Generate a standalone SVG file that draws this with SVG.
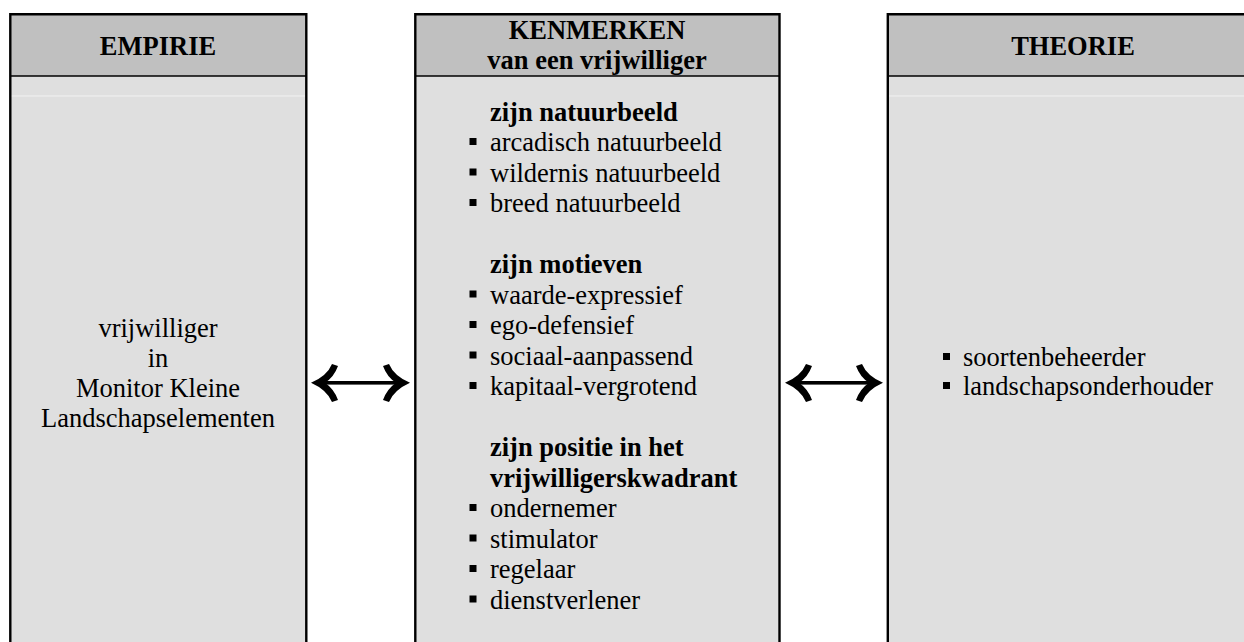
<svg xmlns="http://www.w3.org/2000/svg" width="1244" height="642" viewBox="0 0 1244 642">
<style>
.hdr{fill:#c0c0c0;stroke:none}
.body{fill:#dfdfdf;stroke:none}
.frame{fill:none;stroke:#000;stroke-width:2.4}
.div{stroke:#000;stroke-width:1.4}
.lite{stroke:#f2f2f2;stroke-width:1}
text{font-family:"Liberation Serif","Times New Roman",serif;font-size:26.5px;fill:#000}
.b{font-weight:bold}
.c{text-anchor:middle}
.bul{fill:#000}
.arr{fill:#000;stroke:none}
</style>
<rect width="1244" height="642" fill="#fff"/>
<g id="empirie">
<rect class="hdr" x="10" y="14" width="296" height="62"/>
<rect class="body" x="10" y="76" width="296" height="570"/>
<line class="lite" x1="11" y1="96" x2="305" y2="96"/>
<line class="div" x1="10" y1="76" x2="306" y2="76"/>
<path class="frame" d="M10.3 650 V14.3 H306.3 V650"/>
<text class="b c" x="158" y="55">EMPIRIE</text>
<text class="c" x="158" y="337">vrijwilliger</text>
<text class="c" x="158" y="367">in</text>
<text class="c" x="158" y="397">Monitor Kleine</text>
<text class="c" x="158" y="427">Landschapselementen</text>
</g>
<g id="kenmerken">
<rect class="hdr" x="415" y="14" width="365" height="62"/>
<rect class="body" x="415" y="76" width="365" height="570"/>
<line class="div" x1="415" y1="76" x2="780" y2="76"/>
<path class="frame" d="M415.3 650 V14.3 H779.5 V650"/>
<text class="b c" x="597" y="39">KENMERKEN</text>
<text class="b c" x="597" y="69">van een vrijwilliger</text>
<text class="b" x="490" y="120.5">zijn natuurbeeld</text>
<rect class="bul" x="469.5" y="138" width="7" height="7"/><text x="490" y="151">arcadisch natuurbeeld</text>
<rect class="bul" x="469.5" y="168.5" width="7" height="7"/><text x="490" y="181.5">wildernis natuurbeeld</text>
<rect class="bul" x="469.5" y="199" width="7" height="7"/><text x="490" y="212">breed natuurbeeld</text>
<text class="b" x="490" y="273">zijn motieven</text>
<rect class="bul" x="469.5" y="290.5" width="7" height="7"/><text x="490" y="303.5">waarde-expressief</text>
<rect class="bul" x="469.5" y="321" width="7" height="7"/><text x="490" y="334">ego-defensief</text>
<rect class="bul" x="469.5" y="351.5" width="7" height="7"/><text x="490" y="364.5">sociaal-aanpassend</text>
<rect class="bul" x="469.5" y="382" width="7" height="7"/><text x="490" y="395">kapitaal-vergrotend</text>
<text class="b" x="490" y="456">zijn positie in het</text>
<text class="b" x="490" y="486.5">vrijwilligerskwadrant</text>
<rect class="bul" x="469.5" y="504" width="7" height="7"/><text x="490" y="517">ondernemer</text>
<rect class="bul" x="469.5" y="534.5" width="7" height="7"/><text x="490" y="547.5">stimulator</text>
<rect class="bul" x="469.5" y="565" width="7" height="7"/><text x="490" y="578">regelaar</text>
<rect class="bul" x="469.5" y="595.5" width="7" height="7"/><text x="490" y="608.5">dienstverlener</text>
</g>
<g id="theorie">
<rect class="hdr" x="888" y="14" width="370" height="62"/>
<rect class="body" x="888" y="76" width="370" height="570"/>
<line class="lite" x1="889" y1="96" x2="1258" y2="96"/>
<line class="div" x1="888" y1="76" x2="1258" y2="76"/>
<path class="frame" d="M887.8 650 V14.3 H1258"/>
<text class="b c" x="1073" y="55">THEORIE</text>
<rect class="bul" x="943" y="353" width="7" height="7"/><text x="963" y="366">soortenbeheerder</text>
<rect class="bul" x="943" y="382" width="7" height="7"/><text x="963" y="395">landschapsonderhouder</text>
</g>
<g id="connectors">
<g id="arrow-left">
<rect class="arr" x="318" y="381" width="86" height="3.6"/>
<path class="arr" d="M311 382.8 Q327 376 332 364 L338 366 Q334 377 325 382.8 Q334 389 338 400 L332 402 Q327 390 311 382.8 Z"/>
<path class="arr" d="M410 382.8 Q394 376 389 364 L383 366 Q387 377 396 382.8 Q387 389 383 400 L389 402 Q394 390 410 382.8 Z"/>
</g>
<g id="arrow-right">
<rect class="arr" x="792" y="381" width="84" height="3.6"/>
<path class="arr" d="M785 382.8 Q801 376 806 364 L812 366 Q808 377 799 382.8 Q808 389 812 400 L806 402 Q801 390 785 382.8 Z"/>
<path class="arr" d="M883 382.8 Q867 376 862 364 L856 366 Q860 377 869 382.8 Q860 389 856 400 L862 402 Q867 390 883 382.8 Z"/>
</g>
</g>
</svg>
